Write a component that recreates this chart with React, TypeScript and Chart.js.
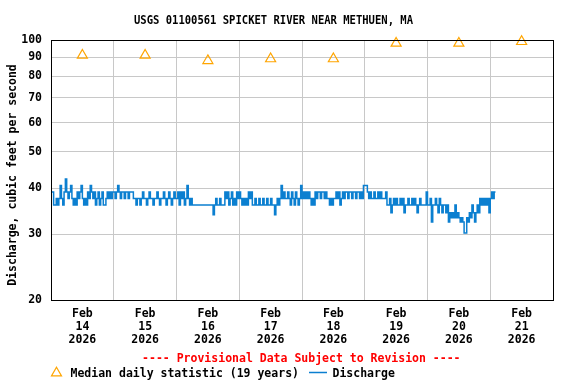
import React, { useEffect, useRef } from 'react';
import { Chart, registerables } from 'chart.js';

Chart.register(...registerables);

const TITLE = 'USGS 01100561 SPICKET RIVER NEAR METHUEN, MA';
const Y_TITLE = 'Discharge, cubic feet per second';
const PROVISIONAL = '---- Provisional Data Subject to Revision ----';
const LEGEND_MEDIAN = 'Median daily statistic (19 years)';
const LEGEND_Q = 'Discharge';

const yTicks = [20, 30, 40, 50, 60, 70, 80, 90, 100];
const xMonth = 'Feb';
const xYear = '2026';
const xDays = ['14', '15', '16', '17', '18', '19', '20', '21'];
const dayGridHours = [0, 24, 48, 72, 96, 120, 144, 168, 192];
const dayLabelHours = [12, 36, 60, 84, 108, 132, 156, 180];

// Median daily statistic (19 years), one per day at noon
const medianValues = [91, 91, 88, 89, 89, 98, 98, 99];

// Discharge, half-hourly readings per day (cfs)
const q14 = [39, 39, 36, 36, 37.5, 36, 37.5, 40.6, 37.5, 36, 39, 42.3, 39, 37.5, 39, 40.6, 37.5, 36, 37.5, 36, 39, 37.5, 39, 40.6, 37.5, 36, 37.5, 36, 39, 37.5, 40.6, 39, 37.5, 39, 36, 37.5, 39, 36, 37.5, 39, 36, 36, 37.5, 39, 37.5, 39, 37.5, 39];
const q15 = [39, 37.5, 39, 40.6, 39, 37.5, 39, 39, 37.5, 39, 39, 37.5, 39, 39, 39, 37.5, 37.5, 36, 37.5, 37.5, 36, 37.5, 39, 37.5, 37.5, 36, 37.5, 39, 37.5, 37.5, 36, 37.5, 37.5, 39, 37.5, 36, 37.5, 37.5, 39, 37.5, 36, 37.5, 39, 37.5, 36, 37.5, 39, 37.5];
const q16 = [37.5, 39, 36, 39, 37.5, 39, 36, 37.5, 40.6, 37.5, 36, 37.5, 36, 36, 36, 36, 36, 36, 36, 36, 36, 36, 36, 36, 36, 36, 36, 36, 33.9, 36, 37.5, 36, 36, 37.5, 36, 36, 36, 39, 37.5, 39, 36, 37.5, 39, 36, 37.5, 36, 39, 37.5];
const q17 = [39, 37.5, 36, 37.5, 36, 37.5, 36, 39, 37.5, 39, 36, 36, 37.5, 36, 36, 37.5, 36, 36, 37.5, 36, 36, 37.5, 36, 36, 37.5, 36, 36, 33.9, 36, 37.5, 36, 37.5, 40.6, 37.5, 39, 37.5, 37.5, 39, 37.5, 36, 39, 37.5, 36, 39, 37.5, 36, 37.5, 40.6];
const q18 = [37.5, 39, 37.5, 39, 37.5, 39, 37.5, 36, 37.5, 36, 39, 37.5, 39, 39, 37.5, 39, 39, 37.5, 39, 37.5, 37.5, 36, 37.5, 36, 37.5, 37.5, 39, 37.5, 39, 36, 37.5, 39, 37.5, 39, 39, 37.5, 39, 39, 37.5, 39, 39, 37.5, 39, 39, 37.5, 39, 37.5, 40.6];
const q19 = [40.6, 40.6, 39, 37.5, 39, 37.5, 37.5, 39, 37.5, 37.5, 39, 37.5, 39, 37.5, 37.5, 37.5, 39, 36, 36, 37.5, 34.3, 36, 37.5, 36, 37.5, 36, 36, 37.5, 36, 37.5, 34.3, 36, 36, 37.5, 36, 36, 37.5, 36, 37.5, 36, 34.3, 36, 37.5, 36, 36, 36, 36, 39];
const q20 = [36, 36, 37.5, 32.4, 36, 36, 37.5, 36, 34.3, 37.5, 36, 34.3, 36, 36, 34.3, 36, 32.4, 34.3, 33.3, 34.3, 33.3, 36, 33.3, 34.3, 33.3, 32.4, 33.3, 32.4, 30.3, 30.3, 33.3, 32.4, 34.3, 33.3, 36, 34.3, 32.4, 34.3, 36, 34.3, 37.5, 36, 37.5, 36, 37.5, 36, 37.5, 34.3];
const q21 = [37.5, 39, 37.5, 39, 39];
const dischargeDays = [q14, q15, q16, q17, q18, q19, q20, q21];

const FONT = '"DejaVu Sans Mono", "Liberation Mono", monospace';
const BLUE = '#0B7FD0';
const ORANGE = '#FFA500';
const GRID = '#C8C8C8';

const overlay = {
  id: 'overlay',
  afterDraw(chart: any) {
    const { ctx, chartArea: a } = chart;
    ctx.save();
    // frame
    ctx.strokeStyle = '#000';
    ctx.lineWidth = 1;
    ctx.strokeRect(Math.round(a.left) + 0.5, Math.round(a.top) + 0.5, Math.round(a.right - a.left), Math.round(a.bottom - a.top));

    ctx.fillStyle = '#000';
    // title
    ctx.font = `bold 11.5px ${FONT}`;
    ctx.textAlign = 'center';
    ctx.textBaseline = 'alphabetic';
    const tw = ctx.measureText(TITLE).width;
    ctx.save();
    ctx.translate(273.5, 24);
    ctx.scale(279 / tw, 1);
    ctx.fillText(TITLE, 0, 0);
    ctx.restore();

    // y title
    ctx.save();
    ctx.translate(15.5, 175);
    ctx.rotate(-Math.PI / 2);
    ctx.fillText(Y_TITLE, 0, 0);
    ctx.restore();

    // provisional
    ctx.fillStyle = '#FF0000';
    ctx.fillText(PROVISIONAL, 301.3, 362);

    // legend
    ctx.fillStyle = '#000';
    ctx.textAlign = 'left';
    ctx.fillText(LEGEND_MEDIAN, 70.5, 377);
    ctx.fillText(LEGEND_Q, 332.5, 377);

    const r = 5.8;
    const cx = 56.5, cy = 373;
    ctx.beginPath();
    for (let k = 0; k < 3; k++) {
      const ang = k * (2 * Math.PI / 3);
      const px = cx + Math.sin(ang) * r;
      const py = cy - Math.cos(ang) * r;
      if (k === 0) ctx.moveTo(px, py); else ctx.lineTo(px, py);
    }
    ctx.closePath();
    ctx.strokeStyle = ORANGE;
    ctx.lineWidth = 1.2;
    ctx.stroke();

    ctx.beginPath();
    ctx.moveTo(309, 372.5);
    ctx.lineTo(327, 372.5);
    ctx.strokeStyle = BLUE;
    ctx.lineWidth = 1.5;
    ctx.stroke();
    ctx.restore();
  },
};

export default function App() {
  const ref = useRef<HTMLCanvasElement | null>(null);

  useEffect(() => {
    if (!ref.current) return;
    const dischargePts = dischargeDays.flatMap((arr, d) => arr.map((v, i) => ({ x: d * 24 + i * 0.5, y: v })));
    const medianPts = medianValues.map((v, d) => ({ x: dayLabelHours[d], y: v }));
    const tickFont = { family: FONT, size: 11.5, weight: 'bold' as const, lineHeight: '13px' };

    const chart = new Chart(ref.current, {
      type: 'line',
      data: {
        datasets: [
          {
            label: 'Median daily statistic (19 years)',
            data: medianPts,
            showLine: false,
            pointStyle: 'triangle',
            pointRadius: 5.8,
            pointBorderColor: ORANGE,
            pointBackgroundColor: 'rgba(0,0,0,0)',
            pointBorderWidth: 1.2,
            borderColor: ORANGE,
            clip: false as any,
            order: 0,
          },
          {
            label: 'Discharge',
            data: dischargePts,
            borderColor: BLUE,
            borderWidth: 1.5,
            pointRadius: 0,
            stepped: true,
            tension: 0,
            fill: false,
            order: 1,
          },
        ],
      },
      options: {
        animation: false,
        responsive: false,
        maintainAspectRatio: false,
        events: [],
        layout: { padding: { left: 0, right: 23, top: 40, bottom: 0 } },
        plugins: {
          legend: { display: false },
          title: { display: false },
          tooltip: { enabled: false },
        },
        scales: {
          x: {
            type: 'linear',
            position: 'bottom',
            min: 0,
            max: 192,
            afterBuildTicks: (s: any) => { s.ticks = dayGridHours.map((v) => ({ value: v })); },
            afterFit: (s: any) => { s.height = 0; },
            ticks: { display: false },
            grid: { color: GRID, lineWidth: 1, drawTicks: false },
            border: { display: false },
          },
          xLabels: {
            type: 'linear',
            position: 'bottom',
            min: 0,
            max: 192,
            afterBuildTicks: (s: any) => { s.ticks = dayLabelHours.map((v) => ({ value: v })); },
            afterFit: (s: any) => { s.height = 84; },
            ticks: {
              autoSkip: false,
              maxRotation: 0,
              minRotation: 0,
              padding: 8,
              color: '#000',
              font: tickFont,
              callback: (_v: any, i: number) => [xMonth, xDays[i], xYear],
            },
            grid: { display: false, drawTicks: false },
            border: { display: false },
          },
          y: {
            type: 'logarithmic',
            min: 20,
            max: 100,
            afterBuildTicks: (s: any) => { s.ticks = yTicks.map((v) => ({ value: v })); },
            afterFit: (s: any) => { s.width = 51; },
            ticks: {
              autoSkip: false,
              padding: 9,
              color: '#000',
              font: tickFont,
              callback: (v: any) => String(v),
            },
            grid: { color: GRID, lineWidth: 1, drawTicks: false },
            border: { display: false },
          },
        },
      } as any,
      plugins: [overlay],
    });
    return () => chart.destroy();
  }, []);

  return (
    <div style={{ position: 'absolute', left: 0, top: 0, width: 576, height: 384, background: '#fff' }}>
      <canvas ref={ref} width={576} height={384} style={{ width: 576, height: 384, display: 'block' }} />
    </div>
  );
}
